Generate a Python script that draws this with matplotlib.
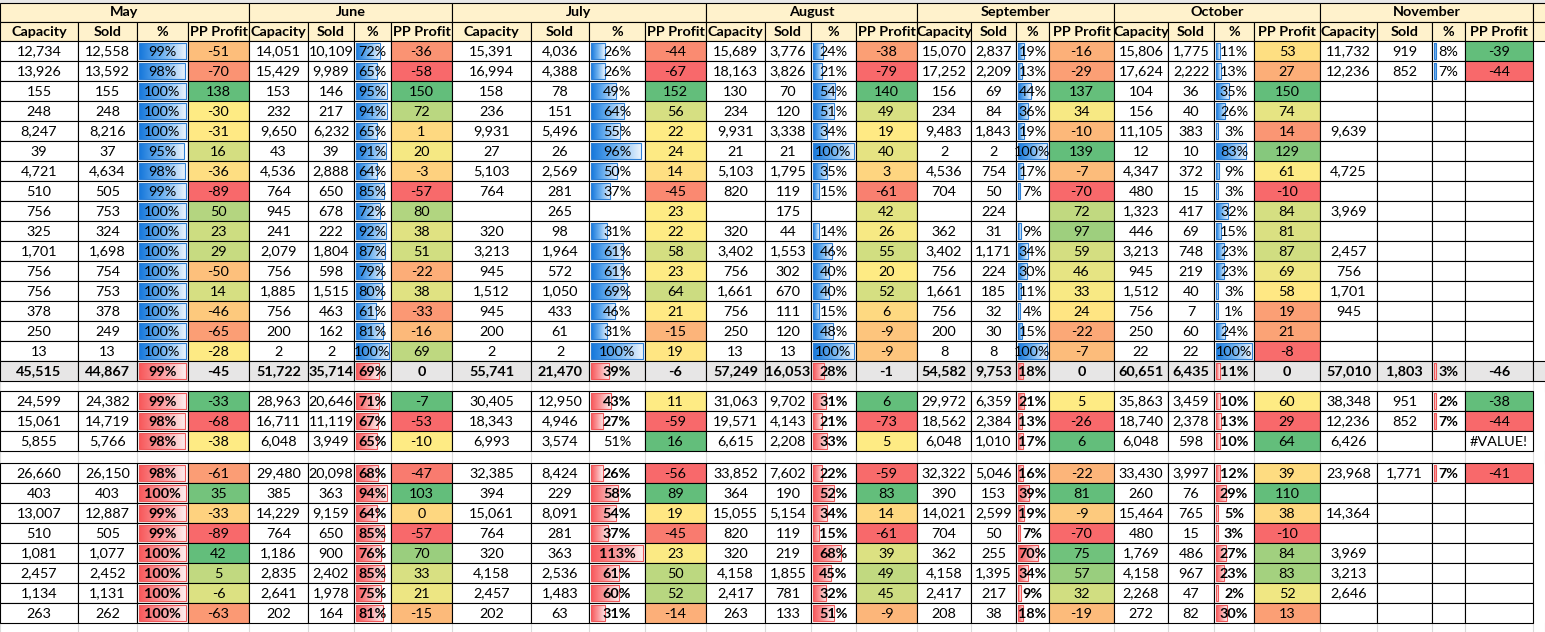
import numpy as np
import matplotlib.pyplot as plt
from matplotlib.colors import LinearSegmentedColormap

plt.rcParams['font.family'] = ['Lato', 'DejaVu Sans']

months = ['May', 'June', 'July', 'August', 'September', 'October', 'November']
col_names = ['Capacity', 'Sold', '%', 'PP Profit']
N = None

# top block: 16 rows per month
top_cap = [
    [12734, 13926, 155, 248, 8247, 39, 4721, 510, 756, 325, 1701, 756, 756, 378, 250, 13],
    [14051, 15429, 153, 232, 9650, 43, 4536, 764, 945, 241, 2079, 756, 1885, 756, 200, 2],
    [15391, 16994, 158, 236, 9931, 27, 5103, 764, N, 320, 3213, 945, 1512, 945, 200, 2],
    [15689, 18163, 130, 234, 9931, 21, 5103, 820, N, 320, 3402, 756, 1661, 756, 250, 13],
    [15070, 17252, 156, 234, 9483, 2, 4536, 704, N, 362, 3402, 756, 1661, 756, 200, 8],
    [15806, 17624, 104, 156, 11105, 12, 4347, 480, 1323, 446, 3213, 945, 1512, 756, 250, 22],
    [11732, 12236, N, N, 9639, N, 4725, N, 3969, N, 2457, 756, 1701, 945, N, N],
]
top_sold = [
    [12558, 13592, 155, 248, 8216, 37, 4634, 505, 753, 324, 1698, 754, 753, 378, 249, 13],
    [10109, 9989, 146, 217, 6232, 39, 2888, 650, 678, 222, 1804, 598, 1515, 463, 162, 2],
    [4036, 4388, 78, 151, 5496, 26, 2569, 281, 265, 98, 1964, 572, 1050, 433, 61, 2],
    [3776, 3826, 70, 120, 3338, 21, 1795, 119, 175, 44, 1553, 302, 670, 111, 120, 13],
    [2837, 2209, 69, 84, 1843, 2, 754, 50, 224, 31, 1171, 224, 185, 32, 30, 8],
    [1775, 2222, 36, 40, 383, 10, 372, 15, 417, 69, 748, 219, 40, 7, 60, 22],
    [919, 852] + [N] * 14,
]
top_pct = [
    [99, 98, 100, 100, 100, 95, 98, 99, 100, 100, 100, 100, 100, 100, 100, 100],
    [72, 65, 95, 94, 65, 91, 64, 85, 72, 92, 87, 79, 80, 61, 81, 100],
    [26, 26, 49, 64, 55, 96, 50, 37, N, 31, 61, 61, 69, 46, 31, 100],
    [24, 21, 54, 51, 34, 100, 35, 15, N, 14, 46, 40, 40, 15, 48, 100],
    [19, 13, 44, 36, 19, 100, 17, 7, N, 9, 34, 30, 11, 4, 15, 100],
    [11, 13, 35, 26, 3, 83, 9, 3, 32, 15, 23, 23, 3, 1, 24, 100],
    [8, 7] + [N] * 14,
]
top_profit = [
    [-51, -70, 138, -30, -31, 16, -36, -89, 50, 23, 29, -50, 14, -46, -65, -28],
    [-36, -58, 150, 72, 1, 20, -3, -57, 80, 38, 51, -22, 38, -33, -16, 69],
    [-44, -67, 152, 56, 22, 24, 14, -45, 23, 22, 58, 23, 64, 21, -15, 19],
    [-38, -79, 140, 49, 19, 40, 3, -61, 42, 26, 55, 20, 52, 6, -9, -9],
    [-16, -29, 137, 34, -10, 139, -7, -70, 72, 97, 59, 46, 33, 24, -22, -7],
    [53, 27, 150, 74, 14, 129, 61, -10, 84, 81, 87, 69, 58, 19, 21, -8],
    [-39, -44] + [N] * 14,
]

# totals row
tot_cap = [45515, 51722, 55741, 57249, 54582, 60651, 57010]
tot_sold = [44867, 35714, 21470, 16053, 9753, 6435, 1803]
tot_pct = [99, 69, 39, 28, 18, 11, 3]
tot_profit = [-45, 0, -6, -1, 0, 0, -46]

# middle block: 3 rows
mid_cap = [[24599, 15061, 5855], [28963, 16711, 6048], [30405, 18343, 6993],
           [31063, 19571, 6615], [29972, 18562, 6048], [35863, 18740, 6048],
           [38348, 12236, 6426]]
mid_sold = [[24382, 14719, 5766], [20646, 11119, 3949], [12950, 4946, 3574],
            [9702, 4143, 2208], [6359, 2384, 1010], [3459, 2378, 598], [951, 852, N]]
mid_pct = [[99, 98, 98], [71, 67, 65], [43, 27, 51], [31, 21, 33],
           [21, 13, 17], [10, 13, 10], [2, 7, N]]
mid_profit = [[-33, -68, -38], [-7, -53, -10], [11, -59, 16], [6, -73, 5],
              [5, -26, 6], [60, 29, 64], [-38, -44, '#VALUE!']]

# bottom block: 8 rows
bot_cap = [
    [26660, 403, 13007, 510, 1081, 2457, 1134, 263],
    [29480, 385, 14229, 764, 1186, 2835, 2641, 202],
    [32385, 394, 15061, 764, 320, 4158, 2457, 202],
    [33852, 364, 15055, 820, 320, 4158, 2417, 263],
    [32322, 390, 14021, 704, 362, 4158, 2417, 208],
    [33430, 260, 15464, 480, 1769, 4158, 2268, 272],
    [23968, N, 14364, N, 3969, 3213, 2646, N],
]
bot_sold = [
    [26150, 403, 12887, 505, 1077, 2452, 1131, 262],
    [20098, 363, 9159, 650, 900, 2402, 1978, 164],
    [8424, 229, 8091, 281, 363, 2536, 1483, 63],
    [7602, 190, 5154, 119, 219, 1855, 781, 133],
    [5046, 153, 2599, 50, 255, 1395, 217, 38],
    [3997, 76, 765, 15, 486, 967, 47, 82],
    [1771] + [N] * 7,
]
bot_pct = [
    [98, 100, 99, 99, 100, 100, 100, 100],
    [68, 94, 64, 85, 76, 85, 75, 81],
    [26, 58, 54, 37, 113, 61, 60, 31],
    [22, 52, 34, 15, 68, 45, 32, 51],
    [16, 39, 19, 7, 70, 34, 9, 18],
    [12, 29, 5, 3, 27, 23, 2, 30],
    [7] + [N] * 7,
]
bot_profit = [
    [-61, 35, -33, -89, 42, 5, -6, -63],
    [-47, 103, 0, -57, 70, 33, 21, -15],
    [-56, 89, 19, -45, 23, 50, 52, -14],
    [-59, 83, 14, -61, 39, 49, 45, -9],
    [-22, 81, -9, -70, 75, 57, 32, -19],
    [39, 110, 38, -10, 84, 83, 52, 13],
    [-41] + [N] * 7,
]

# layout (pixel grid of the sheet)
edges = [0, 78, 137, 188, 249, 308, 354, 391, 452, 531, 589, 645, 706,
         765, 811, 856, 917, 971, 1016, 1049, 1114, 1168, 1214, 1254, 1320,
         1377, 1432, 1465, 1533]
W, H = 1545, 632
RH = 20
top_y = [41 + RH * i for i in range(16)]
tot_y = 361
mid_y = [391 + RH * i for i in range(3)]
bot_y = [463 + RH * i for i in range(8)]

scale = LinearSegmentedColormap.from_list('rag', ['#F8696B', '#FFEB84', '#63BE7B'])
blue_bar = LinearSegmentedColormap.from_list('bb', ['#1577DB', '#6FB2F0', '#EAF3FD'])
red_bar = LinearSegmentedColormap.from_list('rb', ['#F8575A', '#FA9C9E', '#FDEEEE'])

fig = plt.figure(figsize=(W / 100, H / 100), dpi=100)
ax = fig.add_axes([0, 0, 1, 1])
ax.set_xlim(0, W)
ax.set_ylim(H, 0)
ax.axis('off')
FS = 10.4


def fmt(v, pct=False):
    if v is None:
        return ''
    if isinstance(v, str):
        return v
    return f'{v}%' if pct else f'{v:,}'


def profit_color(v, vals):
    nums = [x for x in vals if isinstance(x, (int, float))]
    if not isinstance(v, (int, float)):
        return 'white'
    lo, hi = min(nums), max(nums)
    if hi == lo:
        return '#F8696B'
    md = np.percentile(nums, 50)
    if v <= md:
        t = 0.5 * (v - lo) / (md - lo) if md > lo else 0.5
    else:
        t = 0.5 + 0.5 * (v - md) / (hi - md)
    return scale(t)


def box(x0, x1, y0, y1, fill='white'):
    ax.add_patch(plt.Rectangle((x0, y0), x1 - x0, y1 - y0, facecolor=fill,
                               edgecolor='black', linewidth=0.8, zorder=1))


def databar(x0, x1, y0, y1, v, vmax, cmap, edge):
    if v is None:
        return
    full = (x1 - x0) - 4
    w = max(2.0, full * min(v / vmax, 1.0))
    grad = np.linspace(0, 1, 64).reshape(1, -1)
    ax.imshow(grad, cmap=cmap, aspect='auto', zorder=2,
              extent=(x0 + 2, x0 + 2 + w, y1 - 2, y0 + 2))
    ax.add_patch(plt.Rectangle((x0 + 2, y0 + 2), w, y1 - y0 - 4, fill=False,
                               edgecolor=edge, linewidth=0.8, zorder=3))


def draw_rows(ys, cap, sold, pct, prof, m, bar_cmap, bar_edge, bar_max, bold,
              grey=False, plain_pct=()):
    x = edges[4 * m:4 * m + 5]
    for r, y in enumerate(ys):
        fill = '#E7E6E6' if grey else 'white'
        for c in range(4):
            if c == 3 and not grey:
                fc = profit_color(prof[r], prof)
            else:
                fc = fill
            box(x[c], x[c + 1], y, y + RH, fc)
        vals = [fmt(cap[r]), fmt(sold[r]), fmt(pct[r], True), fmt(prof[r])]
        if r not in plain_pct:
            databar(x[2], x[3], y, y + RH, pct[r], bar_max, bar_cmap, bar_edge)
        for c in range(4):
            wgt = 'bold' if bold or (c == 2 and bar_cmap is red_bar and r not in plain_pct) else 'normal'
            ax.text((x[c] + x[c + 1]) / 2, y + RH / 2 + 0.5, vals[c], ha='center',
                    va='center', fontsize=FS, fontweight=wgt, zorder=4)


# headers
for m, name in enumerate(months):
    x = edges[4 * m:4 * m + 5]
    box(x[0], x[4], 3, 22, '#FFF2CC')
    ax.text((x[0] + x[4]) / 2, 12.5, name, ha='center', va='center',
            fontsize=FS, fontweight='bold', zorder=4)
    for c in range(4):
        box(x[c], x[c + 1], 22, 41, '#FFF2CC')
        ax.text((x[c] + x[c + 1]) / 2, 31.5, col_names[c], ha='center',
                va='center', fontsize=FS, fontweight='bold', zorder=4)
box(1533, 1560, 3, 22, '#FFF2CC')
box(1533, 1560, 22, 41, '#FFF2CC')
ax.axhspan(0, 3, color='#E8E8E8', zorder=0)

# faint sheet gridlines in the empty spacer rows
for y0, y1 in [(381, 391), (451, 463), (623, 632)]:
    for e in edges + [1545]:
        ax.plot([e, e], [y0, y1], color='#D9D9D9', lw=0.8, zorder=0)

for m in range(7):
    tmax = max([100] + [v for v in top_pct[m] if v is not None])
    draw_rows(top_y, top_cap[m], top_sold[m], top_pct[m], top_profit[m], m,
              blue_bar, '#2F80D6', tmax, False)
    rvals = [100, tot_pct[m]] + [v for v in mid_pct[m] + bot_pct[m] if v is not None]
    rmax = max(rvals)
    draw_rows([tot_y], [tot_cap[m]], [tot_sold[m]], [tot_pct[m]], [tot_profit[m]], m,
              red_bar, '#F05A5C', rmax, True, grey=True)
    plain = (2,) if m == 2 else ()
    draw_rows(mid_y, mid_cap[m], mid_sold[m], mid_pct[m], mid_profit[m], m,
              red_bar, '#F05A5C', rmax, False, plain_pct=plain)
    draw_rows(bot_y, bot_cap[m], bot_sold[m], bot_pct[m], bot_profit[m], m,
              red_bar, '#F05A5C', rmax, False)

box(1533, 1560, tot_y, tot_y + RH, '#E7E6E6')

fig.savefig('out.png', dpi=100)
